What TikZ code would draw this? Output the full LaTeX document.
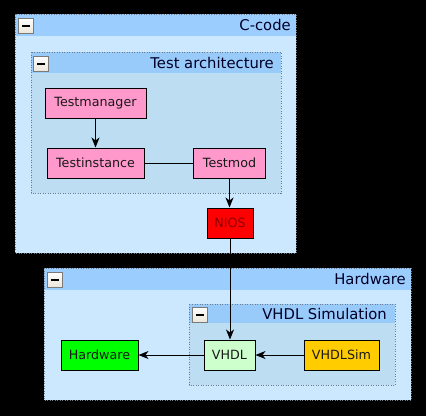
\documentclass[tikz,border=0pt]{standalone}
\usepackage{fontspec}
\setmainfont{DejaVu Sans}
\usetikzlibrary{arrows.meta}
\definecolor{grpbody}{HTML}{CCE8FF}
\definecolor{grphead}{HTML}{9CCDFF}
\definecolor{innerbody}{HTML}{BDDDF3}
\definecolor{innerhead}{HTML}{99CBFA}
\definecolor{grpborder}{HTML}{6E7D8C}
\definecolor{pinkn}{HTML}{FF99CC}
\definecolor{niosred}{HTML}{FF0000}
\definecolor{niostext}{HTML}{8B0000}
\definecolor{hwgreen}{HTML}{00FF00}
\definecolor{vhdlgreen}{HTML}{CCFFCC}
\definecolor{simyellow}{HTML}{FFCC00}
\definecolor{iconborder}{HTML}{7A7A7A}
\definecolor{iconfill}{HTML}{ECE6DA}
\tikzset{
  box/.style={draw=black, line width=1pt, minimum height=30pt, inner sep=0pt,
    font=\fontsize{12.7}{15}\selectfont, text=black!90},
  grpborderline/.style={draw=grpborder, line width=0.8pt, dash pattern=on 1pt off 1.5pt},
  headlabel/.style={anchor=east, inner sep=0pt, font=\fontsize{14.8}{17}\selectfont, text=black!85!blue},
  conn/.style={draw=black, line width=1pt},
  arr/.style={conn, -{Stealth[length=10pt,width=8pt,inset=3pt]}},
  minusicon/.style={draw=iconborder, line width=0.8pt, top color=white, bottom color=iconfill, minimum size=15pt, inner sep=0pt}
}
\newcommand{\grpicon}[2]{%
  \node[minusicon] (#1) at (#2) {};
  \fill[black] ([xshift=-4pt,yshift=-1pt]#1.center) rectangle ([xshift=4pt,yshift=1pt]#1.center);
}
\begin{document}
\begin{tikzpicture}[x=1pt,y=-1pt]
\fill[black] (0,0) rectangle (426,416);
\useasboundingbox (0,0) rectangle (426,416);

% C-code group
\fill[grpbody] (15,14) rectangle (296,253);
\fill[grphead] (15,14) rectangle (296,36);
\draw[grpborderline] (15,14) rectangle (296,253);
\node[headlabel] (lccode) at (291,25) {C-code};
\grpicon{iconC}{25.5,25.5}

% Test architecture group
\fill[innerbody] (31,52) rectangle (281,193);
\fill[innerhead] (31,52) rectangle (281,73);
\draw[grpborderline] (31,52) rectangle (281,193);
\node[headlabel] (ltest) at (274,62.5) {Test architecture};
\grpicon{iconT}{41,63.5}

% Hardware group
\fill[grpbody] (44,268) rectangle (411,400);
\fill[grphead] (44,268) rectangle (411,290);
\draw[grpborderline] (44,268) rectangle (411,400);
\node[headlabel] (lhw) at (406,279) {Hardware};
\grpicon{iconH}{55,279.5}

% VHDL Simulation group
\fill[innerbody] (189,304) rectangle (395,385);
\fill[innerhead] (189,304) rectangle (395,323);
\draw[grpborderline] (189,304) rectangle (395,385);
\node[headlabel] (lvs) at (387,313.5) {VHDL Simulation};
\grpicon{iconV}{199.5,314.5}

% nodes
\node[box, fill=pinkn, minimum width=101pt] (tm) at (95.5,103) {Testmanager};
\node[box, fill=pinkn, minimum width=97pt] (ti) at (95.5,163) {Testinstance};
\node[box, fill=pinkn, minimum width=72pt] (tmod) at (229.5,163) {Testmod};
\node[box, fill=niosred, minimum width=46pt, text=niostext] (nios) at (230,223) {NIOS};
\node[box, fill=hwgreen, minimum width=77pt] (hw) at (99.5,355) {Hardware};
\node[box, fill=vhdlgreen, minimum width=51pt] (vhdl) at (229.5,355) {VHDL};
\node[box, fill=simyellow, minimum width=75pt] (vsim) at (341.5,355) {VHDLSim};

% connectors
\draw[arr] (tm) -- (ti);
\draw[conn] (ti) -- (tmod);
\draw[arr] (tmod.south) -- (tmod.south |- nios.north);
\draw[arr] (nios.south) -- (nios.south |- vhdl.north);
\draw[arr] (vhdl) -- (hw);
\draw[arr] (vsim) -- (vhdl);
\end{tikzpicture}
\end{document}
